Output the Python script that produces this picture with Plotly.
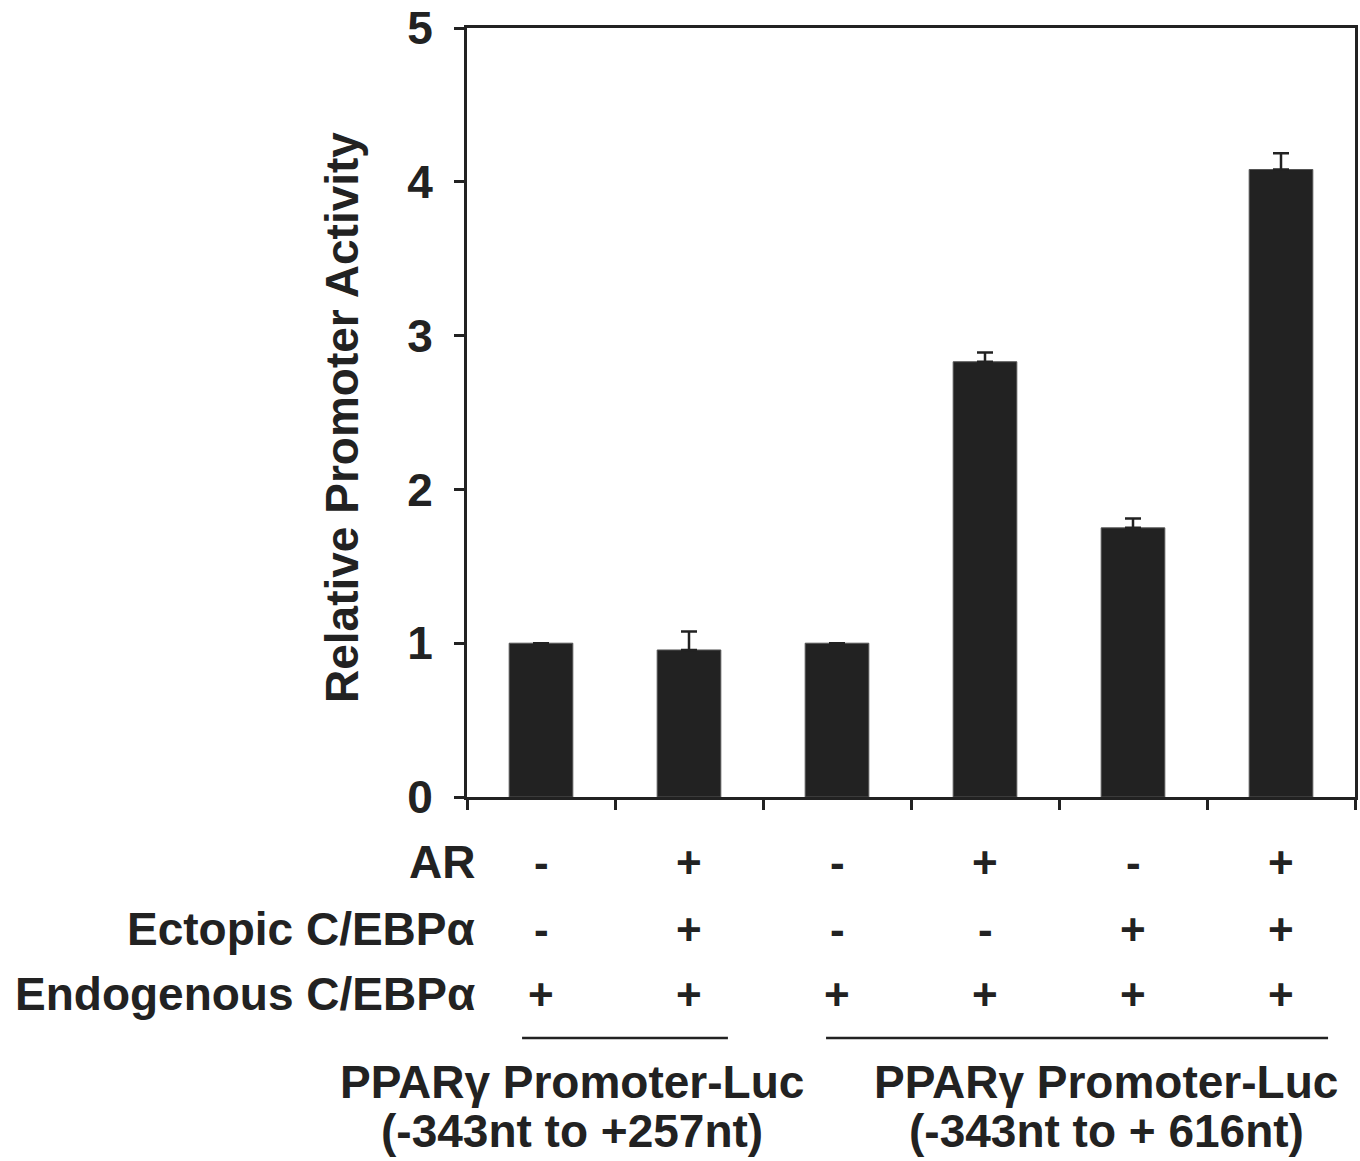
import plotly.graph_objects as go

# Data
positions = [0, 1, 2, 3, 4, 5]
activity = [1.0, 0.956, 1.0, 2.83, 1.75, 4.08]
err_plus = [0.0, 0.12, 0.0, 0.06, 0.06, 0.105]
row_labels = ["AR", "Ectopic C/EBPα", "Endogenous C/EBPα"]
row_AR = ["-", "+", "-", "+", "-", "+"]
row_ectopic = ["-", "+", "-", "-", "+", "+"]
row_endog = ["+", "+", "+", "+", "+", "+"]
group_line1 = ["PPARγ Promoter-Luc", "PPARγ Promoter-Luc"]
group_line2 = ["(-343nt to +257nt)", "(-343nt to + 616nt)"]
group_spans = [(-0.128, 1.263), (1.926, 5.318)]
group_centers = [0.21, 3.82]
y_ticks = [0, 1, 2, 3, 4, 5]

FONT = "Liberation Sans, Arial, Helvetica, sans-serif"
INK = "#222222"
FS = 46

fig = go.Figure()
fig.add_trace(go.Bar(
    x=positions, y=activity, width=0.43,
    marker=dict(color=INK, line=dict(width=1, color="#555555")),
    error_y=dict(type="data", array=err_plus, arrayminus=[0]*6, symmetric=False,
                 color=INK, thickness=2.5, width=8, visible=True),
    showlegend=False,
))

fig.update_layout(
    width=1360, height=1161,
    margin=dict(l=467, r=5, t=28, b=364, autoexpand=False),
    paper_bgcolor="white", plot_bgcolor="white",
    font=dict(family=FONT, color=INK),
    bargap=0.57,
)
fig.update_xaxes(
    range=[-0.5, 5.5], tickvals=[-0.5, 0.5, 1.5, 2.5, 3.5, 4.5, 5.5],
    ticktext=[""] * 7, ticks="outside", ticklen=10, tickwidth=2.5, tickcolor=INK,
    showline=True, linewidth=3, linecolor=INK, mirror=True, showgrid=False, zeroline=False,
    automargin=False,
)
fig.update_yaxes(
    range=[0, 5], tickvals=y_ticks, ticks="outside", ticklen=10, tickwidth=2.5, tickcolor=INK,
    tickfont=dict(size=FS, family=FONT, color=INK, weight="bold"),
    ticklabelstandoff=12,
    showline=True, linewidth=3, linecolor=INK, mirror=True, showgrid=False, zeroline=False,
    automargin=False,
)

# Y title
fig.add_annotation(
    text="Relative Promoter Activity", textangle=-90,
    xref="paper", yref="paper", x=(342 - 467) / 888, y=(797 - 418) / 769,
    xanchor="center", yanchor="middle", showarrow=False,
    font=dict(size=FS, family=FONT, color=INK, weight="bold"),
)

# Condition table
def py(pix):
    return (797 - pix) / 769

row_y = [862, 929, 994]
rows = [row_AR, row_ectopic, row_endog]
for lbl, yy, vals in zip(row_labels, row_y, rows):
    fig.add_annotation(text=lbl, xref="paper", yref="paper", x=(477 - 467) / 888, y=py(yy),
                       xanchor="right", yanchor="middle", showarrow=False,
                       font=dict(size=FS, family=FONT, color=INK, weight="bold"))
    for xp, v in zip(positions, vals):
        fig.add_annotation(text=v, xref="x", yref="paper", x=xp, y=py(yy),
                           xanchor="center", yanchor="middle", showarrow=False,
                           font=dict(size=44, family=FONT, color=INK, weight="bold"))

for (x0, x1), cx, l1, l2 in zip(group_spans, group_centers, group_line1, group_line2):
    fig.add_shape(type="line", xref="x", yref="paper", x0=x0, x1=x1, y0=py(1038), y1=py(1038),
                  line=dict(color=INK, width=2.5))
    fig.add_annotation(text=l1, xref="x", yref="paper", x=cx, y=py(1082),
                       xanchor="center", yanchor="middle", showarrow=False,
                       font=dict(size=FS, family=FONT, color=INK, weight="bold"))
    fig.add_annotation(text=l2, xref="x", yref="paper", x=cx, y=py(1131),
                       xanchor="center", yanchor="middle", showarrow=False,
                       font=dict(size=FS, family=FONT, color=INK, weight="bold"))

fig.write_html("out.html")
